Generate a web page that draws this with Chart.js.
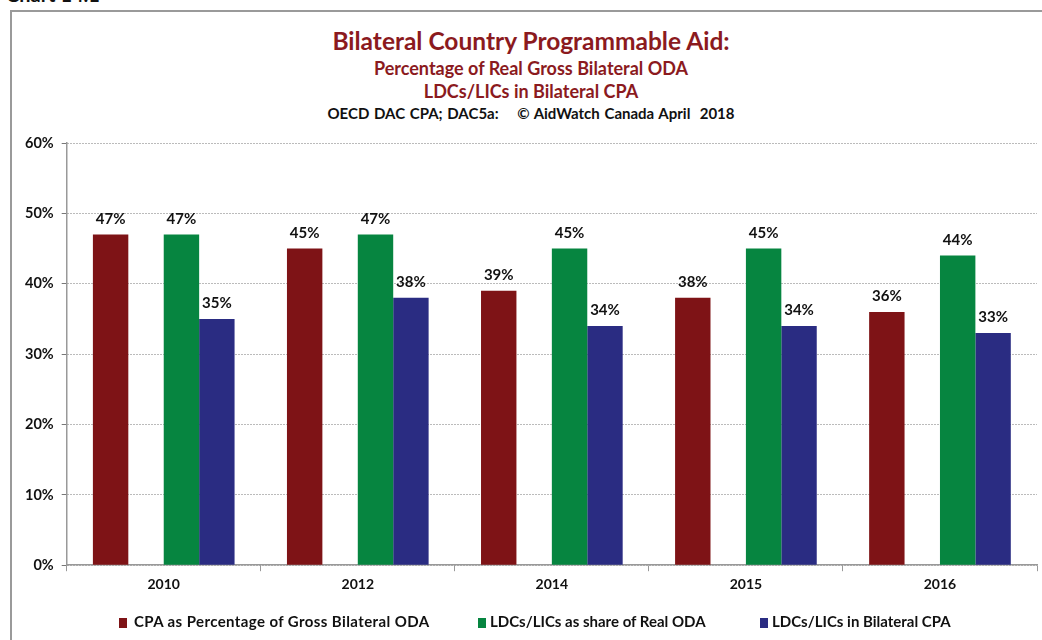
<!DOCTYPE html>
<html>
<head>
<meta charset="utf-8">
<script src="https://cdn.jsdelivr.net/npm/chart.js@4"></script>
<style>
    body { margin: 0; background: #fff; font-family: Lato, "Open Sans", sans-serif; }
    #page { position: relative; width: 1042px; height: 640px; overflow: hidden; }
    #chartNo { position: absolute; left: 6px; top: -18px; font: bold 20px Lato, sans-serif; color: #111; }
    #frame { position: absolute; left: 10px; top: 10px; width: 1100px; height: 700px; border: 2px solid #9a9a9a; }
    .titles { position: absolute; left: 0; width: 1062px; text-align: center; font-weight: bold; }
    #t1 { top: 26px; font-size: 24.5px; color: #8b1a1e; }
    #t2 { top: 57px; font-size: 18px; color: #8b1a1e; }
    #t3 { top: 80px; font-size: 18px; color: #8b1a1e; }
    #t4 { top: 104px; font-size: 15px; color: #111; word-spacing: 1px; }
    #chart-box { position: absolute; left: 0; top: 0; width: 1042px; height: 640px; }
    .legend-item { position: absolute; top: 612px; font: bold 15px Lato, sans-serif; color: #111; white-space: nowrap; }
    .legend-item span { display: inline-block; width: 8px; height: 10px; margin-right: 7px; vertical-align: -1px; }
</style>
</head>
<body>
<div id="page">
    <div id="chartNo">Chart 14.1</div>
    <div id="frame"></div>
    <div class="titles" id="t1">Bilateral Country Programmable Aid:</div>
    <div class="titles" id="t2">Percentage of Real Gross Bilateral ODA</div>
    <div class="titles" id="t3">LDCs/LICs in Bilateral CPA</div>
    <div class="titles" id="t4">OECD DAC CPA; DAC5a:&nbsp;&nbsp;&nbsp; © AidWatch Canada April&nbsp; 2018</div>
    <div id="chart-box"><canvas id="aidChart"></canvas></div>
    <div id="legend"></div>
</div>
<script>
    const years = ['2010', '2012', '2014', '2015', '2016'];
    const seriesNames = ['CPA as Percentage of Gross Bilateral ODA', 'LDCs/LICs as share of Real ODA', 'LDCs/LICs in Bilateral CPA'];
    const cpaShare = [47, 45, 39, 38, 36];
    const ldcOdaShare = [47, 47, 45, 45, 44];
    const ldcCpaShare = [35, 38, 34, 34, 33];
    const spacer = [null, null, null, null, null];
    const yTicks = [0, 10, 20, 30, 40, 50, 60];
    const colors = ['#7e1316', '#068540', '#2a2c82'];

    // подписи над столбцами
    const barLabels = {
        id: 'barLabels',
        afterDatasetsDraw(chart) {
            const ctx = chart.ctx;
            ctx.save();
            ctx.font = 'bold 15px Lato, sans-serif';
            ctx.fillStyle = '#111';
            ctx.textAlign = 'center';
            ctx.textBaseline = 'bottom';
            chart.data.datasets.forEach((ds, i) => {
                if (ds.spacer) return;
                chart.getDatasetMeta(i).data.forEach((bar, j) => {
                    if (ds.data[j] == null) return;
                    ctx.fillText(ds.data[j] + '%', bar.x, bar.y - 8);
                });
            });
            ctx.restore();
        }
    };

    new Chart(document.getElementById('aidChart'), {
        type: 'bar',
        data: {
            labels: years,
            datasets: [
                {label: seriesNames[0], data: cpaShare, backgroundColor: colors[0]},
                {label: '', data: spacer, spacer: true, backgroundColor: 'rgba(0,0,0,0)'},
                {label: seriesNames[1], data: ldcOdaShare, backgroundColor: colors[1]},
                {label: seriesNames[2], data: ldcCpaShare, backgroundColor: colors[2]}
            ]
        },
        options: {
            responsive: true,
            maintainAspectRatio: false,
            animation: false,
            categoryPercentage: 0.73,
            barPercentage: 1.0,
            layout: {padding: {left: 17, right: 5, top: 143, bottom: 42}},
            plugins: {
                title: {display: false},
                tooltip: {enabled: false},
                legend: {display: false}
            },
            scales: {
                x: {
                    offset: true,
                    border: {color: '#999', width: 1.5},
                    grid: {offset: true, drawOnChartArea: false, color: '#999', tickLength: 6},
                    ticks: {color: '#111', padding: 5, font: {family: 'Lato, sans-serif', size: 14, weight: 'bold'}}
                },
                y: {
                    min: 0,
                    max: 60,
                    afterBuildTicks: axis => { axis.ticks = yTicks.map(v => ({value: v})); },
                    border: {color: '#999', width: 1.5, dash: [1, 2]},
                    grid: {color: '#777', tickLength: 5, lineWidth: 1},
                    ticks: {
                        color: '#111',
                        padding: 8,
                        font: {family: 'Lato, sans-serif', size: 14.5, weight: 'bold'},
                        callback: v => v + '%'
                    }
                }
            }
        },
        plugins: [barLabels]
    });

    // легенда
    const legendLeft = [119, 478, 760];
    const legend = document.getElementById('legend');
    seriesNames.forEach((name, i) => {
        const item = document.createElement('div');
        item.className = 'legend-item';
        item.style.left = legendLeft[i] + 'px';
        if (i === 0) item.style.letterSpacing = '0.4px';
        item.innerHTML = `<span style="background:${colors[i]};${i > 0 ? 'margin-right:4px' : ''}"></span>${name}`;
        legend.appendChild(item);
    });
</script>
</body>
</html>
